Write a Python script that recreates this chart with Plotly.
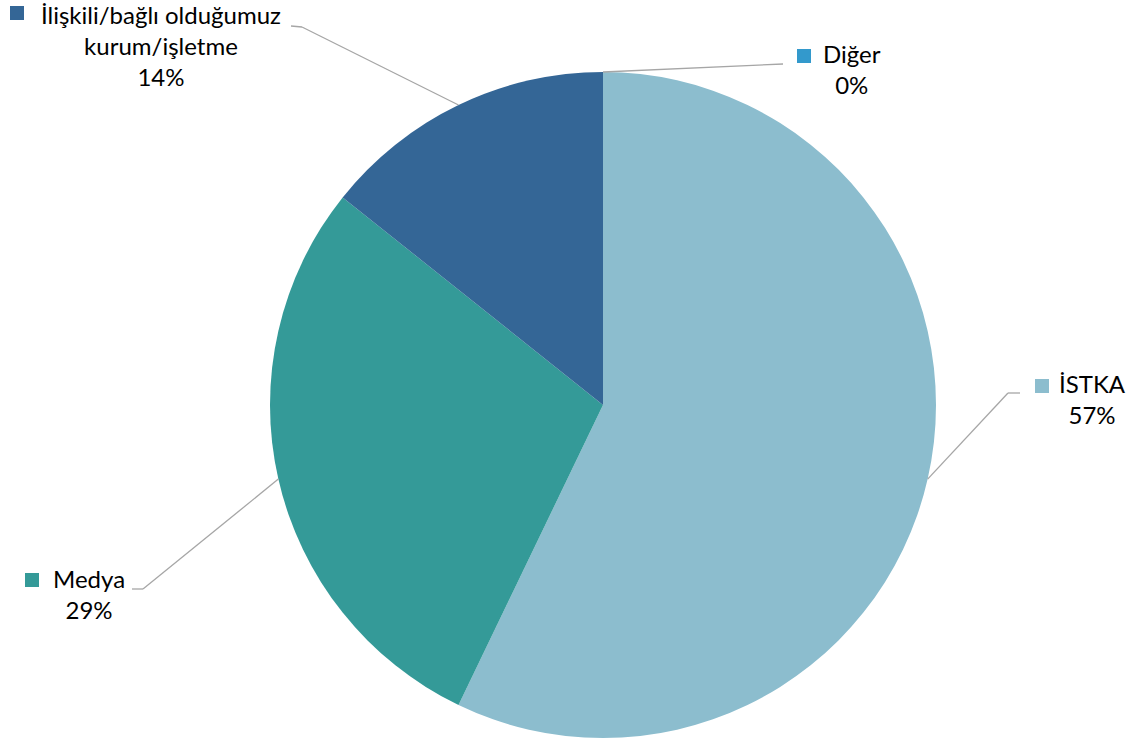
import math
import plotly.graph_objects as go

categories = ["İSTKA", "Medya", "İlişkili/bağlı olduğumuz<br>kurum/işletme", "Diğer"]
values = [4, 2, 1, 0]
colors = ["#8CBDCE", "#349A98", "#346696", "#3399CC"]

W, H = 1131, 746
CX, CY, R = 603, 405, 333

def px(x):
    return x / W

def py(y):
    return 1 - y / H

total = sum(values)
pcts = [f"{round(v / total * 100)}%" for v in values]

fig = go.Figure(go.Pie(
    labels=categories,
    values=values,
    marker=dict(colors=colors, line=dict(width=0)),
    sort=False,
    direction="clockwise",
    rotation=0,
    textinfo="none",
    hoverinfo="label+percent",
    domain=dict(x=[px(CX - R), px(CX + R)], y=[py(CY + R), py(CY - R)]),
    showlegend=False,
))

# label layout: text center x, first line top y, square pos, elbow, end of leader
label_pos = [
    dict(cx=1092, ty=367, sq=1035, sqy=379, elbow=(1008, 393), end=(1020, 393)),
    dict(cx=89, ty=562, sq=25, sqy=573, elbow=(143, 589), end=(132, 589)),
    dict(cx=161, ty=-2, sq=10, sqy=6, elbow=(302, 27), end=(291, 26)),
    dict(cx=852, ty=37, sq=797, sqy=49, elbow=(783, 64), end=(783, 64)),
]

font = dict(family="Lato, 'Open Sans', sans-serif", size=24, color="#000000")

cum = 0
shapes = []
annotations = []
for i, v in enumerate(values):
    mid = (cum + v / 2) / total * 2 * math.pi
    cum += v
    sx = CX + R * math.sin(mid)
    sy = CY - R * math.cos(mid)
    lp = label_pos[i]
    ex, ey = lp["elbow"]
    fx, fy = lp["end"]
    shapes.append(dict(type="line", xref="paper", yref="paper",
                       x0=px(sx), y0=py(sy), x1=px(ex), y1=py(ey),
                       line=dict(color="#A6A6A6", width=1.3)))
    if (fx, fy) != (ex, ey):
        shapes.append(dict(type="line", xref="paper", yref="paper",
                           x0=px(ex), y0=py(ey), x1=px(fx), y1=py(fy),
                           line=dict(color="#A6A6A6", width=1.3)))
    shapes.append(dict(type="rect", xref="paper", yref="paper",
                       x0=px(lp["sq"]), x1=px(lp["sq"] + 14),
                       y0=py(lp["sqy"] + 14), y1=py(lp["sqy"]),
                       fillcolor=colors[i], line=dict(width=0)))
    annotations.append(dict(xref="paper", yref="paper",
                            x=px(lp["cx"]), y=py(lp["ty"]),
                            xanchor="center", yanchor="top",
                            text=f"{categories[i]}<br>{pcts[i]}",
                            showarrow=False, align="center", font=font))

fig.update_layout(
    width=W, height=H,
    margin=dict(l=0, r=0, t=0, b=0),
    paper_bgcolor="white",
    plot_bgcolor="white",
    shapes=shapes,
    annotations=annotations,
)

fig.write_html("out.html", config={"displayModeBar": False},
               post_script="document.body.style.margin='0';")
